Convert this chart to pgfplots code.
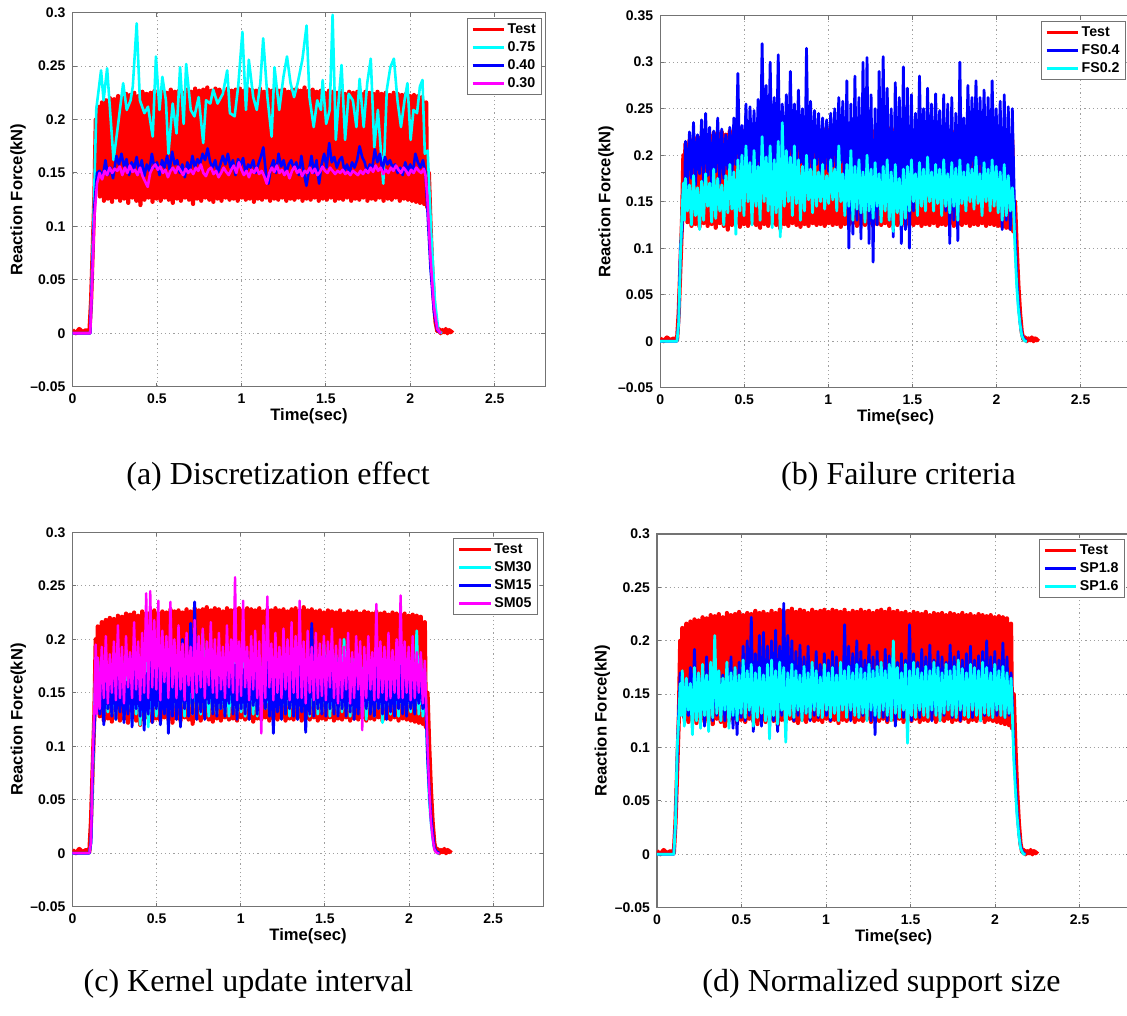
\documentclass[border=0pt]{standalone}
\usepackage{fontspec}
\setmainfont{Liberation Serif}
\newfontfamily\arial{Liberation Sans}
\usepackage{pgfplots}
\usepackage{pgfplotstable}
\pgfplotsset{compat=1.18}
\definecolor{mred}{rgb}{1,0,0}
\definecolor{mblue}{rgb}{0,0,1}
\definecolor{mcyan}{rgb}{0,1,1}
\definecolor{mmag}{rgb}{1,0,1}
\tikzset{capt/.style={font=\fontsize{16}{18}\selectfont, inner sep=0pt}}

\pgfplotstableread{
x t bb bc cc cb cm db dc
0.000 0.003 0 0 0 0 0 0 0
0.020 0.000 0 0 0 0 0 0 0
0.040 0.004 0 0 0 0 0 0 0
0.060 0.001 0 0 0 0 0 0 0
0.080 0.003 0 0 0 0 0 0 0
0.100 0.001 0 0 0 0 0 0 0
0.110 0.030 0.020 0.020 0.010 0.010 0.010 0.030 0.030
0.120 0.080 0.100 0.090 0.070 0.080 0.090 0.090 0.100
0.130 0.130 0.120 0.140 0.130 0.120 0.135 0.140 0.130
0.138 0.200 0.170 0.170 0.180 0.140 0.195 0.170 0.160
0.144 0.140 0.140 0.130 0.140 0.150 0.130 0.140 0.130
0.150 0.212 0.215 0.175 0.182 0.170 0.183 0.170 0.172
0.162 0.128 0.165 0.140 0.135 0.130 0.135 0.125 0.120
0.174 0.216 0.225 0.168 0.170 0.165 0.193 0.165 0.165
0.186 0.124 0.175 0.125 0.128 0.120 0.145 0.130 0.135
0.198 0.218 0.235 0.178 0.178 0.175 0.203 0.175 0.160
0.210 0.126 0.168 0.135 0.132 0.135 0.140 0.122 0.112
0.222 0.220 0.222 0.165 0.165 0.160 0.186 0.192 0.175
0.234 0.123 0.180 0.120 0.130 0.128 0.150 0.135 0.125
0.246 0.219 0.238 0.172 0.175 0.180 0.198 0.168 0.170
0.258 0.127 0.172 0.130 0.125 0.125 0.143 0.128 0.118
0.270 0.222 0.245 0.180 0.172 0.168 0.213 0.175 0.178
0.282 0.124 0.178 0.145 0.138 0.132 0.145 0.120 0.130
0.294 0.221 0.230 0.170 0.180 0.175 0.193 0.185 0.168
0.306 0.126 0.160 0.128 0.128 0.122 0.140 0.132 0.115
0.318 0.224 0.226 0.185 0.168 0.160 0.203 0.170 0.180
0.330 0.122 0.182 0.132 0.135 0.130 0.155 0.125 0.128
0.342 0.223 0.240 0.175 0.175 0.185 0.188 0.180 0.205
0.354 0.127 0.170 0.140 0.122 0.118 0.145 0.130 0.132
0.366 0.225 0.228 0.168 0.170 0.170 0.216 0.172 0.172
0.378 0.124 0.175 0.125 0.130 0.135 0.153 0.128 0.125
0.390 0.222 0.222 0.178 0.178 0.165 0.198 0.168 0.165
0.402 0.120 0.185 0.138 0.120 0.128 0.143 0.125 0.135
0.414 0.226 0.230 0.190 0.172 0.178 0.206 0.178 0.180
0.426 0.125 0.172 0.142 0.132 0.115 0.150 0.130 0.118
0.438 0.224 0.240 0.182 0.180 0.168 0.243 0.185 0.170
0.450 0.127 0.190 0.115 0.118 0.130 0.145 0.118 0.130
0.462 0.225 0.288 0.195 0.175 0.195 0.245 0.175 0.175
0.474 0.123 0.165 0.140 0.130 0.122 0.155 0.112 0.125
0.486 0.227 0.232 0.200 0.170 0.172 0.218 0.180 0.168
0.498 0.126 0.178 0.135 0.128 0.135 0.153 0.128 0.132
0.510 0.224 0.255 0.210 0.182 0.185 0.236 0.195 0.182
0.522 0.124 0.170 0.150 0.130 0.120 0.143 0.125 0.128
0.534 0.226 0.252 0.192 0.176 0.170 0.208 0.200 0.172
0.546 0.127 0.182 0.125 0.135 0.130 0.160 0.130 0.135
0.558 0.225 0.248 0.205 0.185 0.178 0.203 0.222 0.178
0.570 0.125 0.168 0.145 0.128 0.112 0.145 0.115 0.120
0.582 0.228 0.260 0.188 0.172 0.175 0.235 0.188 0.170
0.594 0.122 0.175 0.130 0.132 0.128 0.155 0.135 0.128
0.606 0.226 0.320 0.220 0.180 0.190 0.200 0.205 0.175
0.618 0.126 0.190 0.150 0.130 0.125 0.145 0.120 0.132
0.630 0.227 0.275 0.198 0.178 0.182 0.213 0.208 0.168
0.642 0.124 0.172 0.140 0.135 0.118 0.153 0.130 0.125
0.654 0.225 0.300 0.210 0.185 0.200 0.196 0.195 0.178
0.666 0.127 0.165 0.122 0.128 0.135 0.143 0.118 0.108
0.678 0.228 0.262 0.195 0.176 0.180 0.206 0.200 0.182
0.690 0.125 0.185 0.138 0.132 0.128 0.157 0.125 0.130
0.702 0.226 0.308 0.215 0.190 0.215 0.193 0.210 0.172
0.714 0.121 0.150 0.112 0.130 0.130 0.145 0.115 0.122
0.726 0.229 0.255 0.235 0.182 0.235 0.218 0.195 0.180
0.738 0.126 0.178 0.145 0.135 0.125 0.150 0.130 0.135
0.750 0.227 0.265 0.205 0.176 0.190 0.203 0.235 0.175
0.762 0.124 0.190 0.150 0.130 0.132 0.155 0.128 0.105
0.774 0.228 0.290 0.198 0.205 0.178 0.210 0.205 0.170
0.786 0.127 0.180 0.135 0.135 0.125 0.145 0.135 0.130
0.798 0.230 0.255 0.210 0.180 0.185 0.198 0.200 0.178
0.810 0.125 0.188 0.148 0.128 0.140 0.157 0.125 0.128
0.822 0.227 0.270 0.195 0.175 0.172 0.216 0.190 0.172
0.834 0.123 0.192 0.130 0.132 0.130 0.150 0.130 0.135
0.846 0.229 0.250 0.188 0.182 0.180 0.200 0.196 0.168
0.858 0.126 0.140 0.140 0.130 0.128 0.145 0.128 0.125
0.870 0.228 0.315 0.200 0.178 0.175 0.206 0.185 0.176
0.882 0.124 0.170 0.152 0.135 0.135 0.153 0.132 0.132
0.894 0.226 0.258 0.185 0.172 0.182 0.193 0.195 0.170
0.906 0.127 0.185 0.138 0.130 0.128 0.145 0.125 0.128
0.918 0.229 0.248 0.195 0.180 0.170 0.213 0.180 0.180
0.930 0.125 0.190 0.145 0.128 0.140 0.155 0.130 0.135
0.942 0.227 0.245 0.182 0.176 0.188 0.200 0.190 0.172
0.954 0.126 0.178 0.150 0.135 0.130 0.150 0.128 0.130
0.966 0.228 0.240 0.190 0.182 0.176 0.258 0.178 0.166
0.978 0.124 0.185 0.142 0.130 0.125 0.143 0.135 0.128
0.990 0.229 0.238 0.178 0.175 0.180 0.198 0.188 0.178
1.002 0.127 0.182 0.148 0.132 0.135 0.147 0.130 0.135
1.014 0.227 0.245 0.195 0.180 0.172 0.236 0.182 0.170
1.026 0.125 0.188 0.152 0.128 0.130 0.155 0.125 0.128
1.038 0.229 0.250 0.185 0.176 0.185 0.193 0.190 0.175
1.050 0.126 0.180 0.140 0.135 0.125 0.143 0.132 0.132
1.062 0.228 0.262 0.210 0.172 0.178 0.203 0.185 0.168
1.074 0.123 0.192 0.150 0.130 0.138 0.153 0.128 0.125
1.086 0.227 0.258 0.180 0.185 0.170 0.208 0.180 0.180
1.098 0.126 0.140 0.135 0.128 0.130 0.145 0.135 0.135
1.110 0.229 0.280 0.190 0.178 0.182 0.198 0.215 0.172
1.122 0.125 0.100 0.145 0.132 0.128 0.112 0.130 0.128
1.134 0.226 0.255 0.205 0.182 0.175 0.213 0.195 0.176
1.146 0.127 0.115 0.130 0.135 0.135 0.145 0.125 0.135
1.158 0.228 0.285 0.188 0.175 0.190 0.240 0.188 0.170
1.170 0.124 0.130 0.142 0.130 0.128 0.155 0.132 0.130
1.182 0.227 0.262 0.195 0.180 0.172 0.196 0.200 0.178
1.194 0.126 0.110 0.138 0.128 0.112 0.143 0.128 0.128
1.206 0.229 0.300 0.182 0.176 0.180 0.206 0.190 0.174
1.218 0.125 0.140 0.128 0.135 0.132 0.150 0.130 0.132
1.230 0.227 0.305 0.200 0.182 0.170 0.193 0.182 0.170
1.242 0.127 0.105 0.140 0.130 0.125 0.145 0.135 0.125
1.254 0.228 0.265 0.185 0.176 0.185 0.210 0.196 0.178
1.266 0.124 0.085 0.132 0.135 0.130 0.153 0.125 0.135
1.278 0.226 0.250 0.192 0.180 0.178 0.200 0.185 0.172
1.290 0.126 0.125 0.145 0.128 0.135 0.143 0.112 0.130
1.302 0.228 0.290 0.180 0.175 0.172 0.216 0.190 0.176
1.314 0.125 0.135 0.128 0.132 0.128 0.150 0.130 0.128
1.326 0.229 0.306 0.188 0.184 0.182 0.203 0.180 0.180
1.338 0.127 0.150 0.140 0.130 0.125 0.145 0.128 0.135
1.350 0.227 0.272 0.195 0.178 0.175 0.236 0.192 0.172
1.362 0.124 0.130 0.130 0.135 0.132 0.145 0.125 0.130
1.374 0.230 0.250 0.182 0.182 0.180 0.198 0.186 0.178
1.386 0.126 0.112 0.118 0.130 0.113 0.140 0.130 0.125
1.398 0.227 0.278 0.190 0.176 0.176 0.208 0.195 0.200
1.410 0.125 0.150 0.138 0.128 0.130 0.150 0.120 0.132
1.422 0.228 0.262 0.175 0.180 0.215 0.193 0.180 0.175
1.434 0.127 0.105 0.125 0.135 0.128 0.143 0.132 0.128
1.446 0.226 0.295 0.185 0.185 0.180 0.206 0.188 0.170
1.458 0.124 0.120 0.132 0.130 0.135 0.145 0.128 0.135
1.470 0.227 0.272 0.188 0.178 0.172 0.196 0.182 0.178
1.482 0.126 0.100 0.140 0.132 0.130 0.147 0.130 0.104
1.494 0.225 0.265 0.195 0.195 0.185 0.203 0.215 0.172
1.506 0.125 0.140 0.150 0.135 0.128 0.143 0.125 0.130
1.518 0.227 0.245 0.180 0.182 0.178 0.198 0.188 0.180
1.530 0.127 0.160 0.135 0.128 0.135 0.155 0.132 0.128
1.542 0.226 0.285 0.192 0.178 0.170 0.210 0.180 0.174
1.554 0.124 0.172 0.145 0.135 0.130 0.145 0.128 0.135
1.566 0.225 0.250 0.185 0.185 0.182 0.194 0.192 0.170
1.578 0.126 0.168 0.140 0.130 0.128 0.140 0.135 0.130
1.590 0.227 0.272 0.198 0.180 0.176 0.200 0.185 0.176
1.602 0.125 0.165 0.150 0.132 0.135 0.145 0.130 0.128
1.614 0.224 0.255 0.182 0.200 0.172 0.193 0.196 0.172
1.626 0.127 0.150 0.140 0.135 0.128 0.153 0.125 0.135
1.638 0.226 0.266 0.190 0.176 0.180 0.206 0.182 0.180
1.650 0.124 0.170 0.148 0.128 0.132 0.140 0.132 0.130
1.662 0.225 0.248 0.185 0.182 0.175 0.188 0.190 0.175
1.674 0.126 0.148 0.135 0.130 0.125 0.145 0.128 0.125
1.686 0.226 0.265 0.195 0.178 0.170 0.203 0.185 0.170
1.698 0.125 0.140 0.145 0.135 0.130 0.153 0.130 0.132
1.710 0.224 0.255 0.180 0.185 0.178 0.198 0.180 0.178
1.722 0.127 0.105 0.138 0.130 0.128 0.115 0.135 0.135
1.734 0.226 0.262 0.192 0.176 0.172 0.193 0.196 0.172
1.746 0.124 0.130 0.145 0.125 0.135 0.145 0.128 0.130
1.758 0.225 0.245 0.186 0.182 0.180 0.203 0.185 0.176
1.770 0.126 0.108 0.130 0.132 0.130 0.153 0.130 0.128
1.782 0.224 0.300 0.195 0.178 0.174 0.188 0.190 0.182
1.794 0.125 0.150 0.148 0.128 0.128 0.143 0.125 0.135
1.806 0.226 0.240 0.182 0.180 0.182 0.233 0.182 0.174
1.818 0.127 0.165 0.140 0.135 0.135 0.145 0.132 0.130
1.830 0.224 0.275 0.190 0.176 0.170 0.198 0.188 0.170
1.842 0.124 0.170 0.150 0.122 0.130 0.150 0.130 0.128
1.854 0.225 0.262 0.185 0.182 0.178 0.193 0.195 0.178
1.866 0.126 0.180 0.142 0.135 0.125 0.143 0.128 0.135
1.878 0.223 0.280 0.198 0.178 0.185 0.206 0.182 0.175
1.890 0.125 0.175 0.148 0.130 0.132 0.145 0.135 0.130
1.902 0.225 0.262 0.180 0.185 0.172 0.190 0.186 0.172
1.914 0.127 0.172 0.135 0.132 0.128 0.150 0.125 0.125
1.926 0.224 0.270 0.192 0.180 0.180 0.200 0.190 0.180
1.938 0.124 0.165 0.150 0.128 0.135 0.145 0.130 0.132
1.950 0.223 0.262 0.185 0.178 0.175 0.241 0.200 0.175
1.962 0.126 0.158 0.140 0.135 0.130 0.145 0.132 0.130
1.974 0.224 0.280 0.195 0.185 0.168 0.198 0.185 0.170
1.986 0.125 0.172 0.145 0.130 0.128 0.150 0.128 0.128
1.998 0.222 0.250 0.188 0.180 0.180 0.193 0.190 0.178
2.010 0.124 0.168 0.138 0.132 0.135 0.143 0.130 0.135
2.022 0.223 0.258 0.182 0.176 0.165 0.203 0.182 0.172
2.034 0.123 0.120 0.130 0.135 0.130 0.145 0.135 0.130
2.046 0.222 0.265 0.190 0.208 0.172 0.188 0.198 0.176
2.058 0.122 0.130 0.135 0.130 0.140 0.150 0.128 0.128
2.070 0.221 0.252 0.178 0.182 0.165 0.188 0.185 0.170
2.082 0.121 0.120 0.140 0.128 0.135 0.140 0.130 0.132
2.094 0.216 0.250 0.165 0.170 0.160 0.180 0.170 0.165
2.100 0.118 0.200 0.150 0.140 0.140 0.150 0.150 0.140
2.110 0.150 0.120 0.100 0.090 0.090 0.100 0.100 0.090
2.120 0.100 0.070 0.060 0.050 0.060 0.060 0.070 0.060
2.130 0.060 0.040 0.035 0.030 0.035 0.030 0.040 0.035
2.140 0.030 0.020 0.018 0.015 0.020 0.015 0.020 0.018
2.150 0.010 0.008 0.006 0.005 0.006 0.004 0.008 0.006
2.160 0.002 0.003 0.002 0.002 0.002 0.001 0.003 0.002
2.170 0.004 0.001 0.000 0.000 0.001 0.000 0.001 0.000
2.180 0.000 0.000 0.000 0.000 0.000 0.000 0.000 0.000
2.190 0.003 nan nan nan nan nan nan nan
2.200 0.001 nan nan nan nan nan nan nan
2.210 0.004 nan nan nan nan nan nan nan
2.220 0.000 nan nan nan nan nan nan nan
2.230 0.003 nan nan nan nan nan nan nan
2.240 0.001 nan nan nan nan nan nan nan
2.250 0.003 nan nan nan nan nan nan nan
}\T

\pgfplotsset{
  mat/.style={
    scale only axis,
    xmin=0, xmax=2.8, ymin=-0.05,
    no marks,
    xtick={0,0.5,1,1.5,2,2.5},
    xticklabels={0,0.5,1,1.5,2,2.5},
    grid=major,
    major grid style={gray!75, line width=0.4pt, dash pattern=on 0.6pt off 1.5pt},
    axis line style={black!55, line width=0.6pt},
    tick style={black!55, line width=0.5pt},
    major tick length=2pt,
    tick align=inside,
    ticklabel style={font=\arial\bfseries\fontsize{7}{8}\selectfont},
    every axis x label/.style={at={(axis description cs:0.5,0)}, anchor=north, inner sep=0pt, yshift=-10.5pt, font=\arial\bfseries\fontsize{8.3}{9}\selectfont},
    every axis y label/.style={at={(axis description cs:-0.115,0.5)}, rotate=90, anchor=center, inner sep=0pt, font=\arial\bfseries\fontsize{8.3}{9}\selectfont},
    xlabel={Time(sec)}, ylabel={Reaction Force(kN)},
    legend style={anchor=north east, draw=black!55, line width=0.5pt, fill=white,
      font=\arial\bfseries\fontsize{7.1}{8}\selectfont, inner xsep=2pt, inner ysep=1pt,
      row sep=0pt,
      nodes={inner xsep=1pt, inner ysep=1pt, text height=5.5pt, text depth=1.5pt, anchor=west}},
    legend cell align=left,
    legend image code/.code={\draw[#1, line width=1.4pt] (0pt,0pt) -- (15.8pt,0pt);},
    every axis plot/.append style={line join=round},
  },
  y3/.style={ymax=0.3, ytick={-0.05,0,0.05,0.1,0.15,0.2,0.25,0.3},
    yticklabels={–0.05,0,0.05,0.1,0.15,0.2,0.25,0.3}},
  y35/.style={ymax=0.35, ytick={-0.05,0,0.05,0.1,0.15,0.2,0.25,0.3,0.35},
    yticklabels={–0.05,0,0.05,0.1,0.15,0.2,0.25,0.3,0.35}},
  testline/.style={mred, line width=2.1pt},
  dense/.style={line width=1.4pt},
}

\begin{document}
\begin{tikzpicture}
\useasboundingbox (0,0) rectangle (563.5pt,507.5pt);

% (a)
\begin{axis}[mat, y3, at={(36.25pt,314.15pt)}, anchor=south west, width=236.45pt, height=187pt,
  legend style={at={(0.9934,0.985)}}]
\addplot[testline] table[x=x,y=t]{\T};
\addlegendentry{Test}
\addplot[mcyan, line width=1.3pt] coordinates {(0,0) (0.105,0) (0.125,0.11) (0.141,0.21) (0.169,0.246) (0.184,0.218) (0.205,0.248) (0.243,0.162) (0.268,0.193) (0.300,0.234) (0.321,0.209) (0.344,0.218) (0.357,0.231) (0.380,0.290) (0.399,0.218) (0.426,0.206) (0.447,0.212) (0.475,0.184) (0.494,0.259) (0.515,0.209) (0.532,0.240) (0.553,0.218) (0.568,0.168) (0.593,0.215) (0.616,0.187) (0.637,0.249) (0.658,0.196) (0.673,0.252) (0.700,0.209) (0.722,0.203) (0.747,0.221) (0.774,0.178) (0.791,0.218) (0.816,0.215) (0.833,0.228) (0.859,0.215) (0.890,0.224) (0.916,0.246) (0.932,0.206) (0.960,0.203) (0.981,0.231) (1.006,0.282) (1.027,0.209) (1.044,0.256) (1.070,0.221) (1.091,0.209) (1.112,0.234) (1.129,0.276) (1.154,0.221) (1.179,0.184) (1.196,0.249) (1.224,0.209) (1.249,0.240) (1.270,0.259) (1.291,0.234) (1.312,0.221) (1.333,0.234) (1.361,0.256) (1.386,0.288) (1.403,0.221) (1.428,0.193) (1.449,0.218) (1.471,0.209) (1.481,0.237) (1.502,0.196) (1.523,0.209) (1.540,0.298) (1.559,0.181) (1.576,0.218) (1.593,0.251) (1.614,0.181) (1.635,0.224) (1.660,0.218) (1.681,0.193) (1.700,0.238) (1.724,0.193) (1.745,0.234) (1.766,0.257) (1.787,0.174) (1.808,0.209) (1.840,0.140) (1.861,0.228) (1.882,0.249) (1.903,0.257) (1.924,0.218) (1.945,0.193) (1.966,0.218) (1.983,0.234) (2.002,0.181) (2.019,0.209) (2.040,0.206) (2.057,0.231) (2.072,0.237) (2.086,0.168) (2.103,0.171) (2.124,0.093) (2.146,0.030) (2.167,0.002) (2.188,0)};
\addlegendentry{0.75}
\addplot[mblue, line width=1.3pt] coordinates {(0,0) (0.105,0) (0.13,0.12) (0.145,0.15) (0.16,0.152) (0.18,0.147) (0.195,0.162) (0.21,0.148) (0.225,0.155) (0.24,0.145) (0.26,0.166) (0.275,0.158) (0.29,0.168) (0.305,0.156) (0.32,0.163) (0.335,0.148) (0.35,0.160) (0.365,0.154) (0.38,0.165) (0.395,0.150) (0.41,0.162) (0.425,0.147) (0.44,0.158) (0.455,0.152) (0.47,0.168) (0.485,0.155) (0.50,0.160) (0.515,0.148) (0.53,0.162) (0.545,0.155) (0.56,0.166) (0.575,0.153) (0.59,0.170) (0.605,0.158) (0.62,0.162) (0.635,0.150) (0.65,0.158) (0.665,0.146) (0.68,0.160) (0.695,0.152) (0.71,0.166) (0.725,0.155) (0.74,0.163) (0.755,0.158) (0.77,0.168) (0.785,0.162) (0.80,0.173) (0.815,0.160) (0.83,0.155) (0.845,0.162) (0.86,0.150) (0.875,0.158) (0.89,0.166) (0.905,0.158) (0.92,0.168) (0.935,0.155) (0.95,0.162) (0.965,0.148) (0.98,0.163) (0.995,0.157) (1.01,0.164) (1.025,0.150) (1.04,0.158) (1.055,0.155) (1.07,0.162) (1.085,0.150) (1.10,0.158) (1.115,0.165) (1.13,0.174) (1.145,0.150) (1.16,0.140) (1.175,0.155) (1.19,0.162) (1.205,0.150) (1.22,0.168) (1.235,0.156) (1.25,0.162) (1.265,0.150) (1.28,0.158) (1.295,0.162) (1.31,0.154) (1.325,0.160) (1.34,0.148) (1.355,0.166) (1.37,0.150) (1.385,0.138) (1.40,0.152) (1.415,0.166) (1.43,0.150) (1.445,0.162) (1.46,0.140) (1.475,0.158) (1.49,0.168) (1.505,0.155) (1.52,0.178) (1.535,0.160) (1.55,0.165) (1.565,0.155) (1.58,0.162) (1.595,0.165) (1.61,0.152) (1.625,0.158) (1.64,0.150) (1.655,0.160) (1.67,0.155) (1.685,0.162) (1.70,0.175) (1.715,0.165) (1.73,0.160) (1.745,0.150) (1.76,0.158) (1.775,0.155) (1.79,0.172) (1.805,0.160) (1.82,0.168) (1.835,0.152) (1.85,0.165) (1.865,0.158) (1.88,0.162) (1.895,0.155) (1.91,0.158) (1.925,0.150) (1.94,0.155) (1.955,0.148) (1.97,0.160) (1.985,0.152) (2.00,0.158) (2.015,0.150) (2.03,0.168) (2.045,0.160) (2.06,0.155) (2.075,0.162) (2.09,0.150) (2.10,0.120) (2.12,0.06) (2.14,0.02) (2.16,0.003) (2.18,0)};
\addlegendentry{0.40}
\addplot[mmag, line width=1.3pt] coordinates {(0,0) (0.105,0) (0.13,0.11) (0.145,0.14) (0.16,0.150) (0.175,0.144) (0.19,0.152) (0.205,0.148) (0.22,0.155) (0.235,0.150) (0.25,0.154) (0.265,0.152) (0.28,0.156) (0.295,0.148) (0.31,0.155) (0.325,0.150) (0.34,0.157) (0.355,0.151) (0.37,0.153) (0.385,0.148) (0.40,0.155) (0.415,0.147) (0.43,0.142) (0.445,0.137) (0.46,0.150) (0.475,0.155) (0.49,0.158) (0.505,0.153) (0.52,0.156) (0.535,0.150) (0.55,0.153) (0.565,0.146) (0.58,0.152) (0.595,0.155) (0.61,0.150) (0.625,0.156) (0.64,0.152) (0.655,0.148) (0.67,0.154) (0.685,0.150) (0.70,0.153) (0.715,0.149) (0.73,0.155) (0.745,0.152) (0.76,0.158) (0.775,0.150) (0.79,0.147) (0.805,0.153) (0.82,0.155) (0.835,0.149) (0.85,0.152) (0.865,0.146) (0.88,0.150) (0.895,0.155) (0.91,0.151) (0.925,0.148) (0.94,0.153) (0.955,0.157) (0.97,0.150) (0.985,0.160) (1.00,0.153) (1.015,0.148) (1.03,0.152) (1.045,0.146) (1.06,0.153) (1.075,0.150) (1.09,0.155) (1.105,0.149) (1.12,0.152) (1.135,0.147) (1.15,0.140) (1.165,0.150) (1.18,0.155) (1.195,0.151) (1.21,0.157) (1.225,0.150) (1.24,0.153) (1.255,0.148) (1.27,0.152) (1.285,0.145) (1.30,0.152) (1.315,0.156) (1.33,0.150) (1.345,0.153) (1.36,0.147) (1.375,0.152) (1.39,0.150) (1.405,0.155) (1.42,0.150) (1.435,0.154) (1.45,0.148) (1.465,0.151) (1.48,0.156) (1.495,0.152) (1.51,0.150) (1.525,0.155) (1.54,0.152) (1.555,0.149) (1.57,0.152) (1.585,0.150) (1.60,0.153) (1.615,0.149) (1.63,0.151) (1.645,0.148) (1.66,0.152) (1.675,0.150) (1.69,0.148) (1.705,0.152) (1.72,0.149) (1.735,0.153) (1.75,0.150) (1.765,0.155) (1.78,0.151) (1.795,0.157) (1.81,0.152) (1.825,0.155) (1.84,0.149) (1.855,0.153) (1.87,0.150) (1.885,0.155) (1.90,0.152) (1.915,0.157) (1.93,0.153) (1.945,0.150) (1.96,0.155) (1.975,0.152) (1.99,0.148) (2.005,0.153) (2.02,0.150) (2.035,0.155) (2.05,0.152) (2.065,0.150) (2.08,0.154) (2.09,0.148) (2.10,0.13) (2.12,0.07) (2.14,0.025) (2.16,0.004) (2.18,0)};
\addlegendentry{0.30}
\end{axis}

% (b)
\begin{axis}[mat, y35, at={(330.1pt,313.65pt)}, anchor=south west, width=235.4pt, height=186pt,
  legend style={at={(0.9894,0.9866)}}]
\addplot[testline] table[x=x,y=t]{\T};
\addlegendentry{Test}
\addplot[mblue, dense] table[x=x,y=bb]{\T};
\addlegendentry{FS0.4}
\addplot[mcyan, dense] table[x=x,y=bc]{\T};
\addlegendentry{FS0.2}
\end{axis}

% (c)
\begin{axis}[mat, y3, at={(36.25pt,54.15pt)}, anchor=south west, width=235.55pt, height=187.2pt,
  legend style={at={(0.988,0.9856)}}]
\addplot[testline] table[x=x,y=t]{\T};
\addlegendentry{Test}
\addplot[mcyan, dense] table[x=x,y=cc]{\T};
\addlegendentry{SM30}
\addplot[mblue, dense] table[x=x,y=cb]{\T};
\addlegendentry{SM15}
\addplot[mmag, line width=1.2pt] table[x=x,y=cm]{\T};
\addlegendentry{SM05}
\end{axis}

% (d)
\begin{axis}[mat, y3, at={(328.45pt,53.65pt)}, anchor=south west, width=236.75pt, height=186.85pt,
  legend style={at={(0.9886,0.9866)}}]
\addplot[testline] table[x=x,y=t]{\T};
\addlegendentry{Test}
\addplot[mblue, dense] table[x=x,y=db]{\T};
\addlegendentry{SP1.8}
\addplot[mcyan, dense] table[x=x,y=dc]{\T};
\addlegendentry{SP1.6}
\end{axis}

\node[capt] at (139pt,269.25pt) {(a) Discretization effect};
\node[capt] at (449.25pt,269.25pt) {(b) Failure criteria};
\node[capt] at (124.25pt,15.5pt) {(c) Kernel update interval};
\node[capt] at (440.75pt,15.5pt) {(d) Normalized support size};
\end{tikzpicture}
\end{document}
